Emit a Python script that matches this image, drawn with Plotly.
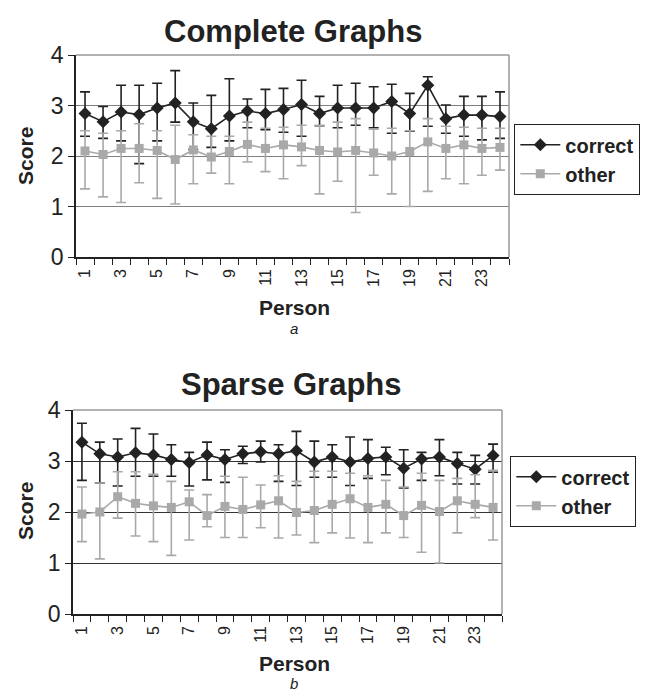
import plotly.graph_objects as go

persons = list(range(1, 25))
tick_vals = list(range(1, 24, 2))
tick_text = [str(v) for v in tick_vals]

# Complete graphs (a)
a_correct = [2.84, 2.68, 2.87, 2.82, 2.95, 3.05, 2.68, 2.54, 2.79, 2.89, 2.84, 2.92,
             3.02, 2.84, 2.95, 2.95, 2.95, 3.08, 2.84, 3.40, 2.74, 2.81, 2.81, 2.78]
a_correct_hi = [3.27, 2.98, 3.40, 3.40, 3.44, 3.69, 3.05, 3.20, 3.53, 3.13, 3.32, 3.34,
                3.50, 3.18, 3.40, 3.44, 3.37, 3.42, 3.24, 3.57, 3.01, 3.18, 3.18, 3.27]
a_correct_lo = [2.39, 2.35, 2.30, 1.85, 2.30, 2.67, 2.13, 2.17, 2.30, 2.56, 2.52, 2.47,
                2.39, 2.60, 2.56, 2.61, 2.56, 2.45, 2.49, 2.59, 2.45, 2.39, 2.32, 2.35]
a_other = [2.10, 2.03, 2.15, 2.15, 2.11, 1.93, 2.12, 1.98, 2.09, 2.23, 2.15, 2.22,
           2.18, 2.11, 2.08, 2.11, 2.06, 2.00, 2.09, 2.28, 2.15, 2.22, 2.15, 2.17]
a_other_hi = [2.50, 2.45, 2.50, 2.64, 2.50, 2.61, 2.42, 2.39, 2.39, 2.67, 2.55, 2.57,
              2.61, 2.61, 2.67, 2.74, 2.53, 2.55, 2.50, 2.74, 2.59, 2.57, 2.55, 2.55]
a_other_lo = [1.35, 1.19, 1.08, 1.47, 1.16, 1.05, 1.45, 1.66, 1.45, 1.88, 1.69, 1.55,
              1.81, 1.25, 1.50, 0.88, 1.62, 1.25, 1.00, 1.30, 1.55, 1.45, 1.62, 1.72]

# Sparse graphs (b)
b_correct = [3.37, 3.14, 3.08, 3.16, 3.12, 3.03, 2.97, 3.12, 3.03, 3.14, 3.18, 3.14,
             3.20, 2.98, 3.08, 2.98, 3.05, 3.08, 2.86, 3.04, 3.08, 2.95, 2.84, 3.11]
b_correct_hi = [3.74, 3.37, 3.43, 3.64, 3.53, 3.32, 3.17, 3.37, 3.22, 3.29, 3.39, 3.32,
                3.58, 3.39, 3.32, 3.47, 3.42, 3.27, 3.22, 3.17, 3.42, 3.17, 3.11, 3.33]
b_correct_lo = [2.62, 2.57, 2.51, 2.70, 2.70, 2.70, 2.51, 2.63, 2.58, 2.95, 2.98, 2.60,
                2.52, 2.68, 2.68, 2.52, 2.66, 2.73, 2.47, 2.62, 2.71, 2.55, 2.55, 2.78]
b_other = [1.96, 2.00, 2.30, 2.17, 2.12, 2.09, 2.20, 1.93, 2.11, 2.05, 2.14, 2.22,
           1.99, 2.03, 2.15, 2.26, 2.09, 2.15, 1.93, 2.13, 2.01, 2.22, 2.15, 2.09]
b_other_hi = [2.49, 2.57, 2.79, 2.79, 2.74, 2.60, 2.43, 2.34, 2.70, 2.68, 2.53, 2.71,
              2.60, 2.80, 2.80, 2.76, 2.71, 2.62, 2.49, 2.76, 2.62, 2.66, 2.73, 2.82]
b_other_lo = [1.42, 1.08, 1.88, 1.53, 1.42, 1.15, 1.45, 1.71, 1.50, 1.50, 1.69, 1.49,
              1.55, 1.40, 1.59, 1.49, 1.40, 1.59, 1.50, 1.21, 1.00, 1.59, 1.89, 1.45]

W, H = 646, 693
FONT = "Liberation Sans, Arial, sans-serif"
BLACK = "#222222"
GRAY = "#a9a9a9"


def px(x):
    return x / W


def py(y):
    return 1 - y / H


fig = go.Figure()


def add_series(xa, ya, vals, hi, lo, name, color, symbol, msize, legend, show):
    fig.add_trace(go.Scatter(
        x=persons, y=vals, name=name, mode="lines+markers",
        xaxis=xa, yaxis=ya, legend=legend, showlegend=show,
        line=dict(color=color, width=1.6),
        marker=dict(symbol=symbol, size=msize, color=color),
        error_y=dict(type="data", symmetric=False,
                     array=[h - v for h, v in zip(hi, vals)],
                     arrayminus=[v - l for v, l in zip(vals, lo)],
                     color=color, thickness=1.6, width=5),
    ))


add_series("x", "y", a_correct, a_correct_hi, a_correct_lo, "correct", BLACK, "diamond", 10, "legend", True)
add_series("x", "y", a_other, a_other_hi, a_other_lo, "other", GRAY, "square", 9, "legend", True)
add_series("x2", "y2", b_correct, b_correct_hi, b_correct_lo, "correct", BLACK, "diamond", 10, "legend2", True)
add_series("x2", "y2", b_other, b_other_hi, b_other_lo, "other", GRAY, "square", 9, "legend2", True)

xcommon = dict(range=[0.5, 24.5], tickmode="array", tickvals=tick_vals, ticktext=tick_text,
               tickangle=-90, tickfont=dict(family=FONT, size=16, color="#222"),
               ticks="outside", ticklen=4, tickcolor="rgba(0,0,0,0)",
               showline=True, linecolor="#222", linewidth=1.5, showgrid=False, zeroline=False,
               minor=dict(ticks="outside", ticklen=6, tickcolor="#222", tick0=0.5, dtick=1,
                          showgrid=False))
ycommon = dict(range=[0, 4], tickmode="array", tickvals=[0, 1, 2, 3, 4],
               tickfont=dict(family=FONT, size=23, color="#222"),
               ticks="outside", ticklen=6, tickcolor="#222",
               showline=True, linecolor="#222", linewidth=1.5, zeroline=False,
               showgrid=True, gridwidth=1.3)

legend_font = dict(family=FONT, size=20, color="#222", weight="bold")

fig.update_layout(
    width=W, height=H, margin=dict(l=0, r=0, t=0, b=0, autoexpand=False),
    paper_bgcolor="white", plot_bgcolor="white",
    xaxis=dict(domain=[px(76), px(509)], anchor="y", **xcommon),
    yaxis=dict(domain=[py(257), py(55)], anchor="x", gridcolor="#808080", **ycommon),
    xaxis2=dict(domain=[px(73), px(502)], anchor="y2", **xcommon),
    yaxis2=dict(domain=[py(614), py(410)], anchor="x2", gridcolor="#333333", **ycommon),
    legend=dict(x=px(514), y=py(124), xanchor="left", yanchor="top",
                bordercolor="#222", borderwidth=1.3, bgcolor="white",
                font=legend_font, tracegroupgap=0, itemwidth=40),
    legend2=dict(x=px(510), y=py(456), xanchor="left", yanchor="top",
                 bordercolor="#222", borderwidth=1.3, bgcolor="white",
                 font=legend_font, tracegroupgap=0, itemwidth=40),
    showlegend=True,
)

# gray top/right frame lines
for xa, ya in (("x", "y"), ("x2", "y2")):
    fig.add_shape(type="line", xref=f"{xa} domain", yref=f"{ya} domain",
                  x0=0, x1=1, y0=1, y1=1, line=dict(color="#999999", width=1.5), layer="above")
    fig.add_shape(type="line", xref=f"{xa} domain", yref=f"{ya} domain",
                  x0=1, x1=1, y0=0, y1=1, line=dict(color="#999999", width=1.5), layer="above")


def ann(text, x, y, size, bold=False, italic=False, angle=0, yanchor="middle"):
    fig.add_annotation(text=text, x=px(x), y=py(y), xref="paper", yref="paper",
                       showarrow=False, xanchor="center", yanchor=yanchor, textangle=angle,
                       font=dict(family=FONT, size=size, color="#222",
                                 weight="bold" if bold else "normal",
                                 style="italic" if italic else "normal"))


ann("Complete Graphs", 293, 31, 31, bold=True)
ann("Score", 25, 156, 21, bold=True, angle=-90)
ann("Person", 294, 307, 21, bold=True)
ann("a", 294, 329, 15, italic=True)
ann("Sparse Graphs", 291, 384, 31, bold=True)
ann("Score", 25, 511, 21, bold=True, angle=-90)
ann("Person", 294, 663, 21, bold=True)
ann("b", 294, 683, 15, italic=True)

fig.write_html("out.html", config={"displayModeBar": False},
               post_script="document.body.style.margin='0px';")
